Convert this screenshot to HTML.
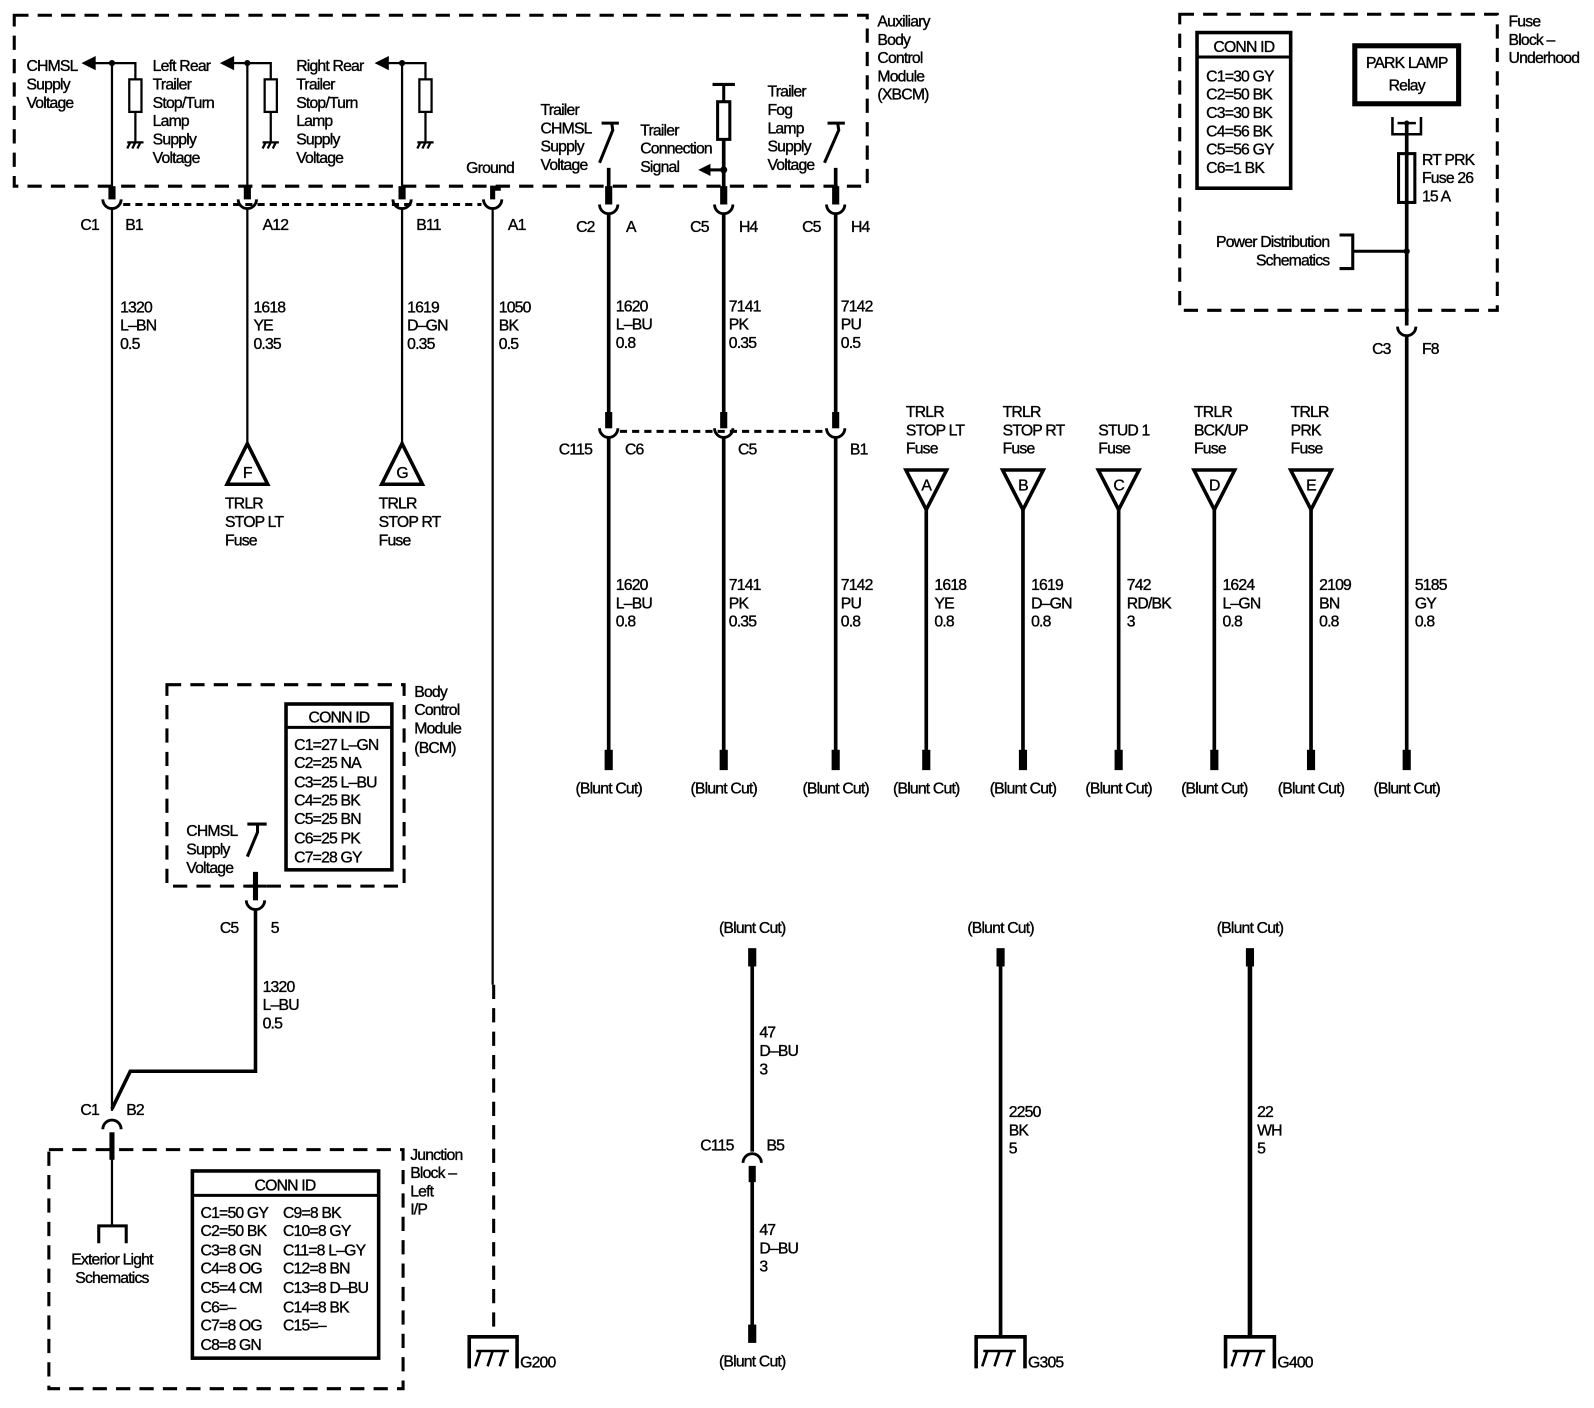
<!DOCTYPE html>
<html><head><meta charset="utf-8"><style>
html,body{margin:0;padding:0;background:#fff;}
svg{display:block}
text{font-family:"Liberation Sans",sans-serif;font-size:15.5px;letter-spacing:-0.8px;fill:#000;stroke:#000;stroke-width:0.35px}
.m{text-anchor:middle}
.r{text-anchor:end}
.w{stroke:#000;fill:none;stroke-width:2.2}
.tw{stroke:#000;fill:none;stroke-width:3.6}
.d{stroke:#000;fill:none;stroke-width:3;stroke-dasharray:14 9}
.dc{stroke:#000;fill:none;stroke-width:3;stroke-dasharray:7 5}
.st{stroke:#000;fill:none;stroke-width:7}
.f{fill:#000;stroke:none}
</style></head><body>
<svg width="1594" height="1408" viewBox="0 0 1566 1384" preserveAspectRatio="none" xmlns="http://www.w3.org/2000/svg">
<rect width="1566" height="1384" fill="#fff"/>

<!-- XBCM box -->
<rect x="14" y="15" width="838" height="168" class="d"/>
<text x="862" y="26">Auxiliary</text><text x="862" y="44">Body</text><text x="862" y="62">Control</text><text x="862" y="80">Module</text><text x="862" y="98">(XBCM)</text>

<!-- CHMSL left -->
<text x="26" y="70">CHMSL</text><text x="26" y="88">Supply</text><text x="26" y="106">Voltage</text>
<line x1="110" y1="62" x2="110" y2="195" class="w"/>
<line x1="92" y1="62" x2="110" y2="62" class="w"/>
<polygon points="80,62 94,55 94,69" class="f"/>
<circle cx="110" cy="62" r="3" class="f"/>
<polyline points="110,62 133,62 133,78" class="w"/>
<rect x="127" y="78" width="12" height="32" class="w"/>
<line x1="133" y1="110" x2="133" y2="140" class="w"/>
<line x1="125" y1="140" x2="141" y2="140" class="w"/>
<path d="M128 140 L125 146 M133 140 L130 146 M138 140 L135 146" class="w"/>

<text x="150" y="70">Left Rear</text><text x="150" y="88">Trailer</text><text x="150" y="106">Stop/Turn</text><text x="150" y="124">Lamp</text><text x="150" y="142">Supply</text><text x="150" y="160">Voltage</text>
<line x1="243" y1="62" x2="243" y2="195" class="w"/>
<line x1="228" y1="62" x2="243" y2="62" class="w"/>
<polygon points="216,62 230,55 230,69" class="f"/>
<circle cx="243" cy="62" r="3" class="f"/>
<polyline points="243,62 266,62 266,78" class="w"/>
<rect x="260" y="78" width="12" height="32" class="w"/>
<line x1="266" y1="110" x2="266" y2="140" class="w"/>
<line x1="258" y1="140" x2="274" y2="140" class="w"/>
<path d="M261 140 L258 146 M266 140 L263 146 M271 140 L268 146" class="w"/>

<text x="291" y="70">Right Rear</text><text x="291" y="88">Trailer</text><text x="291" y="106">Stop/Turn</text><text x="291" y="124">Lamp</text><text x="291" y="142">Supply</text><text x="291" y="160">Voltage</text>
<line x1="395" y1="62" x2="395" y2="195" class="w"/>
<line x1="380" y1="62" x2="395" y2="62" class="w"/>
<polygon points="368,62 382,55 382,69" class="f"/>
<circle cx="395" cy="62" r="3" class="f"/>
<polyline points="395,62 418,62 418,78" class="w"/>
<rect x="412" y="78" width="12" height="32" class="w"/>
<line x1="418" y1="110" x2="418" y2="140" class="w"/>
<line x1="410" y1="140" x2="426" y2="140" class="w"/>
<path d="M413 140 L410 146 M418 140 L415 146 M423 140 L420 146" class="w"/>

<text x="458" y="170">Ground</text>

<g>
<line x1="110" y1="183" x2="110" y2="196" class="st"/>
<line x1="243" y1="183" x2="243" y2="196" class="st"/>
<line x1="395" y1="183" x2="395" y2="196" class="st"/>
<polyline points="484,196 484,185 492,185" class="st" style="stroke-width:5"/>
<path d="M101 196 A9 9 0 0 0 119 196" class="w" style="stroke-width:2.8"/>
<path d="M234 196 A9 9 0 0 0 252 196" class="w" style="stroke-width:2.8"/>
<path d="M386 196 A9 9 0 0 0 404 196" class="w" style="stroke-width:2.8"/>
<path d="M475 196 A9 9 0 0 0 493 196" class="w" style="stroke-width:2.8"/>
<line x1="121" y1="201" x2="473" y2="201" class="dc"/>
</g>
<text x="79" y="226">C1</text><text x="123" y="226">B1</text><text x="258" y="226">A12</text><text x="409" y="226">B11</text><text x="499" y="226">A1</text>

<line x1="110" y1="205" x2="110" y2="1092" class="w"/>
<line x1="243" y1="205" x2="243" y2="435" class="w"/>
<line x1="395" y1="205" x2="395" y2="435" class="w"/>
<line x1="484" y1="205" x2="484" y2="968" class="w"/>
<line x1="485" y1="968" x2="485" y2="1313" class="d"/>

<text x="118" y="307">1320</text><text x="118" y="325">L–BN</text><text x="118" y="343">0.5</text>
<text x="249" y="307">1618</text><text x="249" y="325">YE</text><text x="249" y="343">0.35</text>
<text x="400" y="307">1619</text><text x="400" y="325">D–GN</text><text x="400" y="343">0.35</text>
<text x="490" y="307">1050</text><text x="490" y="325">BK</text><text x="490" y="343">0.5</text>

<polygon points="243,436 223,476 263,476" class="w" style="stroke-width:3.5"/>
<text x="243" y="470" class="m">F</text>
<polygon points="395,436 375,476 415,476" class="w" style="stroke-width:3.5"/>
<text x="395" y="470" class="m">G</text>
<text x="221" y="500">TRLR</text><text x="221" y="518">STOP LT</text><text x="221" y="536">Fuse</text>
<text x="372" y="500">TRLR</text><text x="372" y="518">STOP RT</text><text x="372" y="536">Fuse</text>

<text x="531" y="113">Trailer</text><text x="531" y="131">CHMSL</text><text x="531" y="149">Supply</text><text x="531" y="167">Voltage</text>
<line x1="591" y1="121" x2="608" y2="121" class="w" style="stroke-width:3"/>
<path d="M601 121 L602 128 L589 160" class="w" style="stroke-width:3"/>
<line x1="598" y1="165" x2="598" y2="200" class="tw"/>

<text x="629" y="133">Trailer</text><text x="629" y="151">Connection</text><text x="629" y="169">Signal</text>
<line x1="700" y1="83" x2="722" y2="83" class="w" style="stroke-width:3"/>
<line x1="711" y1="83" x2="711" y2="100" class="w" style="stroke-width:3"/>
<rect x="705" y="100" width="12" height="37" class="w" style="stroke-width:3"/>
<line x1="711" y1="137" x2="711" y2="200" class="tw"/>
<line x1="696" y1="167" x2="711" y2="167" class="w" style="stroke-width:3"/>
<polygon points="686,167 698,161 698,173" class="f"/>
<circle cx="711" cy="167" r="3.5" class="f"/>

<text x="754" y="95">Trailer</text><text x="754" y="113">Fog</text><text x="754" y="131">Lamp</text><text x="754" y="149">Supply</text><text x="754" y="167">Voltage</text>
<line x1="813" y1="121" x2="830" y2="121" class="w" style="stroke-width:3"/>
<path d="M823 121 L824 128 L810 160" class="w" style="stroke-width:3"/>
<line x1="821" y1="165" x2="821" y2="200" class="tw"/>

<line x1="598" y1="183" x2="598" y2="201" class="st"/>
<line x1="711" y1="183" x2="711" y2="201" class="st"/>
<line x1="821" y1="183" x2="821" y2="201" class="st"/>
<path d="M589 201 A9 9 0 0 0 607 201" class="w" style="stroke-width:2.8"/>
<path d="M702 201 A9 9 0 0 0 720 201" class="w" style="stroke-width:2.8"/>
<path d="M812 201 A9 9 0 0 0 830 201" class="w" style="stroke-width:2.8"/>
<text x="566" y="228">C2</text><text x="615" y="228">A</text>
<text x="678" y="228">C5</text><text x="726" y="228">H4</text>
<text x="788" y="228">C5</text><text x="836" y="228">H4</text>

<line x1="598" y1="210" x2="598" y2="410" class="tw"/>
<line x1="711" y1="210" x2="711" y2="410" class="tw"/>
<line x1="821" y1="210" x2="821" y2="410" class="tw"/>
<text x="605" y="306">1620</text><text x="605" y="324">L–BU</text><text x="605" y="342">0.8</text>
<text x="716" y="306">7141</text><text x="716" y="324">PK</text><text x="716" y="342">0.35</text>
<text x="826" y="306">7142</text><text x="826" y="324">PU</text><text x="826" y="342">0.5</text>

<line x1="598" y1="405" x2="598" y2="421" class="st"/>
<line x1="711" y1="405" x2="711" y2="421" class="st"/>
<line x1="821" y1="405" x2="821" y2="421" class="st"/>
<path d="M589 421 A9 9 0 0 0 607 421" class="w" style="stroke-width:2.8"/>
<path d="M702 421 A9 9 0 0 0 720 421" class="w" style="stroke-width:2.8"/>
<path d="M812 421 A9 9 0 0 0 830 421" class="w" style="stroke-width:2.8"/>
<line x1="609" y1="424" x2="811" y2="424" class="dc"/>
<text x="549" y="447">C115</text><text x="614" y="447">C6</text><text x="725" y="447">C5</text><text x="835" y="447">B1</text>

<line x1="598" y1="430" x2="598" y2="740" class="tw"/>
<line x1="711" y1="430" x2="711" y2="740" class="tw"/>
<line x1="821" y1="430" x2="821" y2="740" class="tw"/>
<text x="605" y="580">1620</text><text x="605" y="598">L–BU</text><text x="605" y="616">0.8</text>
<text x="716" y="580">7141</text><text x="716" y="598">PK</text><text x="716" y="616">0.35</text>
<text x="826" y="580">7142</text><text x="826" y="598">PU</text><text x="826" y="616">0.8</text>

<g>
<text x="890" y="410">TRLR</text><text x="890" y="428">STOP LT</text><text x="890" y="446">Fuse</text>
<text x="985" y="410">TRLR</text><text x="985" y="428">STOP RT</text><text x="985" y="446">Fuse</text>
<text x="1079" y="428">STUD 1</text><text x="1079" y="446">Fuse</text>
<text x="1173" y="410">TRLR</text><text x="1173" y="428">BCK/UP</text><text x="1173" y="446">Fuse</text>
<text x="1268" y="410">TRLR</text><text x="1268" y="428">PRK</text><text x="1268" y="446">Fuse</text>
<polygon points="890,462 930,462 910,501" class="w" style="stroke-width:3.5"/>
<polygon points="985,462 1025,462 1005,501" class="w" style="stroke-width:3.5"/>
<polygon points="1079,462 1119,462 1099,501" class="w" style="stroke-width:3.5"/>
<polygon points="1173,462 1213,462 1193,501" class="w" style="stroke-width:3.5"/>
<polygon points="1268,462 1308,462 1288,501" class="w" style="stroke-width:3.5"/>
<text x="910" y="482" class="m">A</text><text x="1005" y="482" class="m">B</text><text x="1099" y="482" class="m">C</text><text x="1193" y="482" class="m">D</text><text x="1288" y="482" class="m">E</text>
<line x1="910" y1="500" x2="910" y2="740" class="tw"/>
<line x1="1005" y1="500" x2="1005" y2="740" class="tw"/>
<line x1="1099" y1="500" x2="1099" y2="740" class="tw"/>
<line x1="1193" y1="500" x2="1193" y2="740" class="tw"/>
<line x1="1288" y1="500" x2="1288" y2="740" class="tw"/>
<text x="918" y="580">1618</text><text x="918" y="598">YE</text><text x="918" y="616">0.8</text>
<text x="1013" y="580">1619</text><text x="1013" y="598">D–GN</text><text x="1013" y="616">0.8</text>
<text x="1107" y="580">742</text><text x="1107" y="598">RD/BK</text><text x="1107" y="616">3</text>
<text x="1201" y="580">1624</text><text x="1201" y="598">L–GN</text><text x="1201" y="616">0.8</text>
<text x="1296" y="580">2109</text><text x="1296" y="598">BN</text><text x="1296" y="616">0.8</text>
<text x="1390" y="580">5185</text><text x="1390" y="598">GY</text><text x="1390" y="616">0.8</text>
</g>

<g>
<rect x="594" y="737" width="8" height="20" class="f"/><rect x="707" y="737" width="8" height="20" class="f"/><rect x="817" y="737" width="8" height="20" class="f"/>
<rect x="906" y="737" width="8" height="20" class="f"/><rect x="1001" y="737" width="8" height="20" class="f"/><rect x="1095" y="737" width="8" height="20" class="f"/>
<rect x="1189" y="737" width="8" height="20" class="f"/><rect x="1284" y="737" width="8" height="20" class="f"/><rect x="1378" y="737" width="8" height="20" class="f"/>
<text x="598" y="780" class="m">(Blunt Cut)</text><text x="711" y="780" class="m">(Blunt Cut)</text><text x="821" y="780" class="m">(Blunt Cut)</text>
<text x="910" y="780" class="m">(Blunt Cut)</text><text x="1005" y="780" class="m">(Blunt Cut)</text><text x="1099" y="780" class="m">(Blunt Cut)</text>
<text x="1193" y="780" class="m">(Blunt Cut)</text><text x="1288" y="780" class="m">(Blunt Cut)</text><text x="1382" y="780" class="m">(Blunt Cut)</text>
</g>

<rect x="1159" y="14" width="312" height="291" class="d"/>
<text x="1482" y="26">Fuse</text><text x="1482" y="44">Block –</text><text x="1482" y="62">Underhood</text>
<rect x="1176" y="32" width="92" height="153" class="w" style="stroke-width:3.5"/>
<line x1="1176" y1="56" x2="1268" y2="56" class="w" style="stroke-width:3"/>
<text x="1222" y="51" class="m">CONN ID</text>
<text x="1185" y="80">C1=30 GY</text><text x="1185" y="98">C2=50 BK</text><text x="1185" y="116">C3=30 BK</text><text x="1185" y="134">C4=56 BK</text><text x="1185" y="152">C5=56 GY</text><text x="1185" y="170">C6=1 BK</text>
<rect x="1331" y="45" width="102" height="57" class="w" style="stroke-width:5"/>
<text x="1382" y="67" class="m">PARK LAMP</text><text x="1382" y="89" class="m">Relay</text>
<polyline points="1368,115 1368,132 1396,132 1396,115" class="w" style="stroke-width:2.5"/>
<line x1="1373" y1="121" x2="1391" y2="121" class="w" style="stroke-width:2.5"/>
<circle cx="1382" cy="121" r="2.5" class="f"/>
<line x1="1382" y1="121" x2="1382" y2="320" class="tw"/>
<rect x="1374" y="151" width="16" height="48" class="w" style="stroke-width:3;fill:#fff"/>
<line x1="1382" y1="151" x2="1382" y2="199" class="tw"/>
<text x="1397" y="162">RT PRK</text><text x="1397" y="180">Fuse 26</text><text x="1397" y="198">15 A</text>
<polyline points="1316,231 1329,231 1329,264 1316,264" class="w" style="stroke-width:3"/>
<line x1="1329" y1="247" x2="1382" y2="247" class="w" style="stroke-width:3"/>
<circle cx="1382" cy="247" r="3" class="f"/>
<text x="1306" y="243" class="r">Power Distribution</text><text x="1306" y="261" class="r">Schematics</text>
<path d="M1373 321 A9 9 0 0 0 1391 321" class="w" style="stroke-width:2.8"/>
<text x="1348" y="348">C3</text><text x="1397" y="348">F8</text>
<line x1="1382" y1="330" x2="1382" y2="740" class="tw"/>

<rect x="164" y="673" width="233" height="198" class="d"/>
<text x="407" y="685">Body</text><text x="407" y="703">Control</text><text x="407" y="721">Module</text><text x="407" y="740">(BCM)</text>
<rect x="281" y="692" width="104" height="163" class="w" style="stroke-width:3.5"/>
<line x1="281" y1="715" x2="385" y2="715" class="w" style="stroke-width:3"/>
<text x="333" y="710" class="m">CONN ID</text>
<text x="289" y="737">C1=27 L–GN</text><text x="289" y="755">C2=25 NA</text><text x="289" y="774">C3=25 L–BU</text><text x="289" y="792">C4=25 BK</text><text x="289" y="810">C5=25 BN</text><text x="289" y="829">C6=25 PK</text><text x="289" y="848">C7=28 GY</text>
<text x="183" y="822">CHMSL</text><text x="183" y="840">Supply</text><text x="183" y="858">Voltage</text>
<line x1="243" y1="810" x2="262" y2="810" class="w" style="stroke-width:3"/>
<path d="M253 810 L253 818 L243 842" class="w" style="stroke-width:3"/>
<line x1="251" y1="857" x2="251" y2="885" class="st" style="stroke-width:5"/>
<line x1="242" y1="871" x2="262" y2="871" class="w" style="stroke-width:3"/>
<path d="M242 885 A9 9 0 0 0 260 885" class="w" style="stroke-width:2.8"/>
<text x="216" y="917">C5</text><text x="266" y="917">5</text>
<polyline points="251,893 251,1053 128,1053 110,1090" class="w" style="stroke-width:3.5"/>
<text x="258" y="975">1320</text><text x="258" y="993">L–BU</text><text x="258" y="1011">0.5</text>

<text x="79" y="1096">C1</text><text x="124" y="1096">B2</text>
<path d="M101 1110 A9 9 0 0 1 119 1110" class="w" style="stroke-width:2.8"/>
<line x1="110" y1="1113" x2="110" y2="1140" class="st" style="stroke-width:5"/>
<line x1="110" y1="1130" x2="110" y2="1205" class="w"/>
<polyline points="97,1222 97,1205 124,1205 124,1222" class="w" style="stroke-width:3"/>
<text x="110" y="1243" class="m">Exterior Light</text><text x="110" y="1261" class="m">Schematics</text>

<rect x="48" y="1130" width="348" height="235" class="d"/>
<text x="403" y="1140">Junction</text><text x="403" y="1158">Block –</text><text x="403" y="1176">Left</text><text x="403" y="1194">I/P</text>
<rect x="189" y="1151" width="183" height="184" class="w" style="stroke-width:3.5"/>
<line x1="189" y1="1175" x2="372" y2="1175" class="w" style="stroke-width:3"/>
<text x="280" y="1170" class="m">CONN ID</text>
<text x="197" y="1197">C1=50 GY</text><text x="197" y="1215">C2=50 BK</text><text x="197" y="1234">C3=8 GN</text><text x="197" y="1252">C4=8 OG</text><text x="197" y="1271">C5=4 CM</text><text x="197" y="1290">C6=–</text><text x="197" y="1308">C7=8 OG</text><text x="197" y="1327">C8=8 GN</text>
<text x="278" y="1197">C9=8 BK</text><text x="278" y="1215">C10=8 GY</text><text x="278" y="1234">C11=8 L–GY</text><text x="278" y="1252">C12=8 BN</text><text x="278" y="1271">C13=8 D–BU</text><text x="278" y="1290">C14=8 BK</text><text x="278" y="1308">C15=–</text>

<polyline points="461,1345 461,1314 508,1314 508,1345" class="w" style="stroke-width:3.5"/>
<path d="M468 1328 L500 1328 M472 1328 L467 1343 M484 1328 L479 1343 M496 1328 L491 1343" class="w" style="stroke-width:2.5"/>
<text x="511" y="1344">G200</text>

<text x="739" y="917" class="m">(Blunt Cut)</text>
<rect x="735" y="932" width="8" height="18" class="f"/>
<line x1="739" y1="950" x2="739" y2="1132" class="tw"/>
<path d="M730 1143 A9 9 0 0 1 748 1143" class="w" style="stroke-width:2.8"/>
<line x1="739" y1="1146" x2="739" y2="1162" class="st"/>
<line x1="739" y1="1160" x2="739" y2="1305" class="tw"/>
<rect x="735" y="1302" width="8" height="18" class="f"/>
<text x="739" y="1343" class="m">(Blunt Cut)</text>
<text x="688" y="1131">C115</text><text x="753" y="1131">B5</text>
<text x="746" y="1020">47</text><text x="746" y="1038">D–BU</text><text x="746" y="1056">3</text>
<text x="746" y="1214">47</text><text x="746" y="1232">D–BU</text><text x="746" y="1250">3</text>

<text x="983" y="917" class="m">(Blunt Cut)</text>
<rect x="979" y="932" width="8" height="18" class="f"/>
<line x1="983" y1="950" x2="983" y2="1314" class="tw"/>
<polyline points="959,1345 959,1314 1007,1314 1007,1345" class="w" style="stroke-width:3.5"/>
<path d="M966 1328 L998 1328 M970 1328 L965 1343 M982 1328 L977 1343 M994 1328 L989 1343" class="w" style="stroke-width:2.5"/>
<text x="1010" y="1344">G305</text>
<text x="991" y="1098">2250</text><text x="991" y="1116">BK</text><text x="991" y="1134">5</text>

<text x="1228" y="917" class="m">(Blunt Cut)</text>
<rect x="1224" y="932" width="8" height="18" class="f"/>
<line x1="1228" y1="950" x2="1228" y2="1314" class="tw" style="stroke-width:4.5"/>
<polyline points="1204,1345 1204,1314 1252,1314 1252,1345" class="w" style="stroke-width:3.5"/>
<path d="M1211 1328 L1243 1328 M1215 1328 L1210 1343 M1227 1328 L1222 1343 M1239 1328 L1234 1343" class="w" style="stroke-width:2.5"/>
<text x="1255" y="1344">G400</text>
<text x="1235" y="1098">22</text><text x="1235" y="1116">WH</text><text x="1235" y="1134">5</text>
</svg>
</body></html>
